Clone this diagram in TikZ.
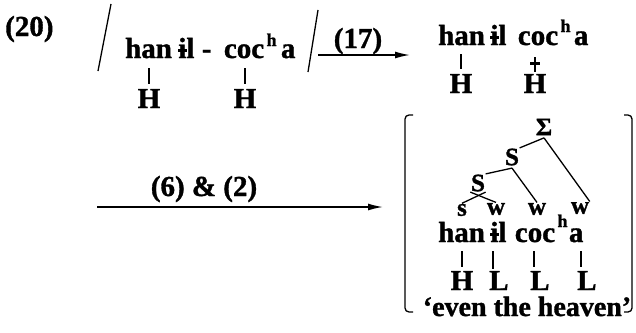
\documentclass[tikz,border=0pt]{standalone}
\usepackage{fontspec}
\setmainfont{Liberation Serif}[BoldFeatures={FakeBold=1.2}]
\usetikzlibrary{arrows.meta,calc}
\newcommand{\ibar}{\ooalign{i\cr\hidewidth\rule[0.22em]{0.30em}{0.08em}\hidewidth\cr}}
\begin{document}
\begin{tikzpicture}[x=1pt,y=-1pt,
 txt/.style={font=\bfseries\fontsize{29}{32}\selectfont, inner sep=0pt, anchor=base west},
 sup/.style={font=\bfseries\fontsize{18}{20}\selectfont, inner sep=0pt, anchor=base west},
 tone/.style={font=\bfseries\fontsize{29}{32}\selectfont, inner sep=0pt, anchor=base},
 tonew/.style={font=\bfseries\fontsize{29}{32}\selectfont, inner sep=0pt, anchor=base west},
 lab/.style={font=\bfseries\fontsize{29}{32}\selectfont, inner sep=0pt, anchor=base},
 mt/.style={font=\bfseries\fontsize{25}{27}\selectfont, inner sep=0.5pt},
 ln/.style={line width=1.3pt},
 tick/.style={line width=1.2pt},
 arr/.style={line width=1.5pt, -{Latex[length=15pt,width=7pt]}},
]
\useasboundingbox (0,0) rectangle (636,332);

% example number
\node[lab, anchor=base west] (ex) at (5,36) {(20)};

% slashes
\draw[ln] (111,4) -- (98,71);
\draw[ln] (318,10) -- (308,72);

% first form
\node[txt] (han1) at (125,58) {han};
\node[txt] (il1) at ($(han1.base east)+(6,0)$) {\ibar l};
\node[txt] (dash1) at ($(il1.base east)+(7,0)$) {-};
\node[txt] (coc1) at ($(dash1.base east)+(12,0)$) {coc};
\node[sup] (hh1) at ($(coc1.base east)+(2,-12)$) {h};
\node[txt] (a1) at ($(hh1.base east |- coc1.base)+(4,0)$) {a};
\node[tone] (H1a) at (149,108) {H};
\node[tone] (H1b) at (245,108) {H};
\draw[tick] ([yshift=5pt]H1a.north) -- ([yshift=21pt]H1a.north);
\draw[tick] ([yshift=5pt]H1b.north) -- ([yshift=21pt]H1b.north);

% rule (17)
\coordinate (r17s) at (318,55);
\coordinate (r17e) at (410,55);
\draw[arr] (r17s) -- (r17e);
\node[lab] (r17) at (358,48) {(17)};

% second form
\node[txt] (han2) at (438,45) {han};
\node[txt] (il2) at ($(han2.base east)+(5,0)$) {\ibar l};
\node[txt] (coc2) at ($(il2.base east)+(11,0)$) {coc};
\node[sup] (hh2) at ($(coc2.base east)+(2,-13)$) {h};
\node[txt] (a2) at ($(hh2.base east |- coc2.base)+(3,0)$) {a};
\node[tone] (H2a) at (461,93) {H};
\node[tone] (H2b) at (535,93) {H};
\draw[tick] ([yshift=5pt]H2a.north) -- ([yshift=20pt]H2a.north);
\draw[tick] ([yshift=2pt]H2b.north) -- ([yshift=17pt]H2b.north);
\draw[line width=3pt] ([xshift=-5pt,yshift=10pt]H2b.north) -- ([xshift=5pt,yshift=10pt]H2b.north);

% rules (6) & (2)
\coordinate (r62s) at (97,207);
\coordinate (r62e) at (383,207);
\draw[arr] (r62s) -- (r62e);
\node[lab] (r62) at (204,196) {(6) \& (2)};

% brackets
\draw[ln, rounded corners=4pt] (413,115) -- (405,115) -- (405,312) -- (413,312);
\draw[ln, rounded corners=4pt] (624,115) -- (632,115) -- (632,312) -- (624,312);

% metrical tree
\node[mt] (Sig) at (544,127) {Σ};
\node[mt] (S1) at (512,157) {S};
\node[mt] (S2) at (478,183) {S};
\node[mt] (ms) at (462,210) {s};
\node[mt] (w1) at (496,209) {w};
\node[mt] (w2) at (537,209) {w};
\node[mt] (w3) at (580,208) {w};
\draw[ln] ([yshift=-2pt]Sig.south) -- (S1.north east);
\draw[ln] ([yshift=-2pt]Sig.south) -- (w3.north east);
\draw[ln] ([yshift=-2pt]S1.south) -- (S2.north east);
\draw[ln] ([yshift=-2pt]S1.south) -- (w2.north);
\draw[ln] (S2.south east) -- (ms.north);
\draw[ln] (S2.south west) -- (w1.north);

% third form
\node[txt] (han3) at (438,242) {han};
\node[txt] (il3) at ($(han3.base east)+(5,0)$) {\ibar l};
\node[txt] (coc3) at ($(il3.base east)+(8,0)$) {coc};
\node[sup] (hh3) at ($(coc3.base east)+(2,-15)$) {h};
\node[txt] (a3) at ($(hh3.base east |- coc3.base)+(1,0)$) {a};
\node[tone] (H3) at (462,290) {H};
\node[tonew] (L1) at (489,290) {L};
\node[tonew] (L2) at (530,290) {L};
\node[tonew] (L3) at (577,290) {L};
\draw[tick] ([yshift=4pt]H3.north) -- ([yshift=20pt]H3.north);
\draw[tick] ([xshift=4pt,yshift=2pt]L1.north west) -- ([xshift=4pt,yshift=20pt]L1.north west);
\draw[tick] ([xshift=4pt,yshift=4pt]L2.north west) -- ([xshift=4pt,yshift=20pt]L2.north west);
\draw[tick] ([xshift=4pt,yshift=4pt]L3.north west) -- ([xshift=4pt,yshift=20pt]L3.north west);

% gloss
\node[lab, font=\bfseries\fontsize{28}{30}\selectfont] (gl) at (527,316) {‘even the heaven’};
\end{tikzpicture}
\end{document}
